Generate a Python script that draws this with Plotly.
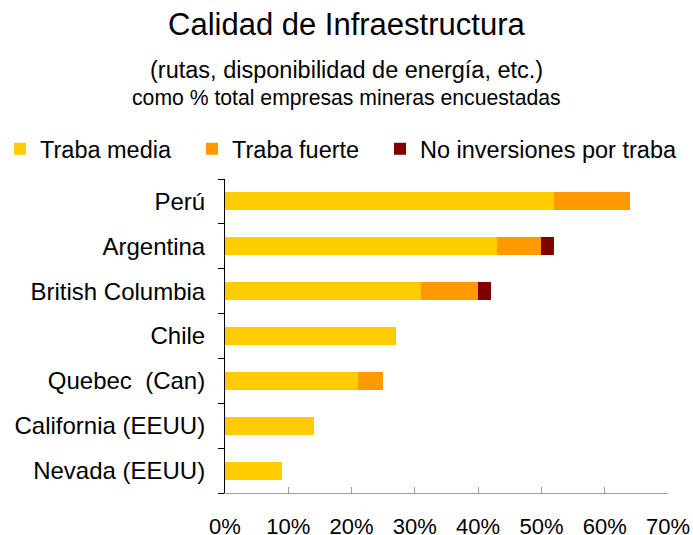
import plotly.graph_objects as go

regiones = ["Perú", "Argentina", "British Columbia", "Chile", "Quebec  (Can)",
            "California (EEUU)", "Nevada (EEUU)"]
traba_media = [52, 43, 31, 27, 21, 14, 9]
traba_fuerte = [12, 7, 9, 0, 4, 0, 0]
no_inversiones = [0, 2, 2, 0, 0, 0, 0]
x_ticks = [0, 10, 20, 30, 40, 50, 60, 70]

series = [("Traba media", traba_media, "#FFCC00"),
          ("Traba fuerte", traba_fuerte, "#FF9900"),
          ("No inversiones por traba", no_inversiones, "#800000")]

W, H = 693, 535
ML, MR, MT, MB = 225, 25, 179, 42
pw = W - ML - MR
ph = H - MT - MB

# one legend per series so each entry sits where the reference puts it
legend_px = [0, 192, 380]
legend_names = ["legend", "legend2", "legend3"]

fig = go.Figure()
for (name, vals, color), lg in zip(series, legend_names):
    fig.add_trace(go.Bar(y=regiones, x=vals, name=name, orientation="h",
                         marker=dict(color=color, line_width=0), legend=lg,
                         showlegend=True))

fig.update_layout(
    barmode="stack", bargap=0.6,
    width=W, height=H, showlegend=True,
    margin=dict(l=ML, r=MR, t=MT, b=MB, autoexpand=False),
    paper_bgcolor="white", plot_bgcolor="white",
    font=dict(family="Liberation Sans, Arial", size=24, color="black"),
)
for lg, px_ in zip(legend_names, legend_px):
    fig.update_layout({lg: dict(orientation="h", x=(px_ - ML) / pw,
                                y=(H - MB - 149) / ph,
                                xanchor="left", yanchor="middle",
                                font=dict(size=23.5), itemwidth=30,
                                bgcolor="rgba(0,0,0,0)")})

# titles placed in pixel space via paper coordinates
for txt, ypix, size in [("Calidad de Infraestructura", 24, 31),
                        ("(rutas, disponibilidad de energía, etc.)", 70, 23.5),
                        ("como % total empresas mineras encuestadas", 98, 21.2)]:
    fig.add_annotation(text=txt, xref="paper", yref="paper",
                       x=(346 - ML) / pw, y=(H - MB - ypix) / ph,
                       showarrow=False, font=dict(size=size),
                       xanchor="center", yanchor="middle")

fig.update_xaxes(range=[0, 70], tickvals=x_ticks,
                 ticktext=[f"{v}%" for v in x_ticks],
                 showgrid=False, zeroline=False,
                 showline=True, linecolor="#9999BB", linewidth=1,
                 ticks="inside", ticklen=6, tickcolor="#9999BB",
                 tickfont=dict(size=22), ticklabelstandoff=14)
fig.update_yaxes(categoryorder="array", categoryarray=regiones[::-1],
                 showgrid=False, showline=True, linecolor="black", linewidth=1,
                 ticks="outside", ticklen=6, tickcolor="black",
                 tickson="boundaries", ticklabelstandoff=14)

fig.write_html("out.html", config={"displayModeBar": False},
               post_script="document.body.style.margin='0';")
